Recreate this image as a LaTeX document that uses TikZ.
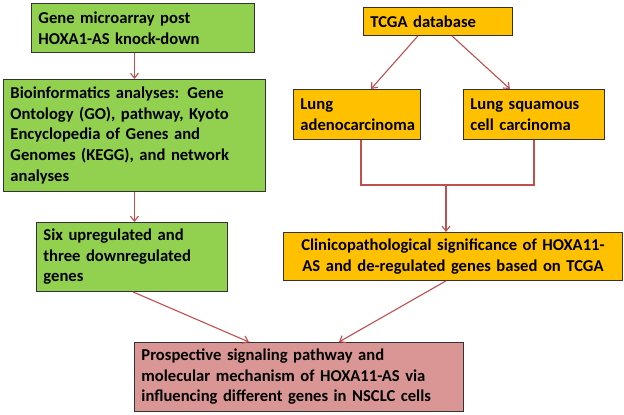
\documentclass[tikz,border=0pt]{standalone}
\usepackage{fontspec}
\setmainfont{Carlito}
\usetikzlibrary{positioning, arrows.meta}
\definecolor{boxgreen}{HTML}{92D050}
\definecolor{boxgold}{HTML}{FFC000}
\definecolor{boxpink}{HTML}{D99694}
\definecolor{linkred}{HTML}{C0504D}
\tikzset{
  box/.style={draw=black!80, line width=0.9pt, anchor=north west, inner xsep=7pt,
    align=left, font=\fontsize{16.6}{20.6}\selectfont\bfseries},
  green box/.style={box, fill=boxgreen},
  gold box/.style={box, fill=boxgold},
  pink box/.style={box, fill=boxpink},
  link/.style={draw=linkred, line width=1.1pt},
  arrow/.style={link, -{Straight Barb[length=5pt,width=8pt]}},
}

\begin{document}
\begin{tikzpicture}[x=1pt, y=-1pt]
    \useasboundingbox (0,0) rectangle (624,415);
    \node[green box, text width=209pt, minimum height=49pt] (gene) at (31,3)
      {Gene microarray post\\HOXA1-AS knock-down};
    \node[green box, text width=248pt, minimum height=112pt] (bioinfo) at (3,79)
      {Bioinformatics analyses: Gene\\Ontology (GO), pathway, Kyoto\\Encyclopedia of Genes and\\Genomes (KEGG), and network\\analyses};
    \node[green box, text width=177pt, minimum height=69pt] (sixgenes) at (36,222)
      {Six upregulated and\\three downregulated\\genes};
    \node[gold box, text width=135pt, minimum height=28pt] (tcga) at (363,7)
      {TCGA database};
    \node[gold box, text width=113pt, minimum height=50pt] (luad) at (293,89)
      {Lung\\adenocarcinoma};
    \node[gold box, text width=127pt, minimum height=50pt] (lusc) at (463,89)
      {Lung squamous\\cell carcinoma};
    \node[gold box, align=center, text width=325pt, minimum height=48pt] (clinic) at (283,232)
      {Clinicopathological significance of HOXA11-\\AS and de-regulated genes based on TCGA};
    \node[pink box, text width=315pt, minimum height=69pt] (mechanism) at (134,342)
      {Prospective signaling pathway and\\molecular mechanism of HOXA11-AS via\\influencing different genes in NSCLC cells};

    \draw[arrow] (bioinfo.north |- gene.south) -- (bioinfo.north);
    \draw[arrow] (bioinfo.south) -- (bioinfo.south |- sixgenes.north);
    \draw[arrow] ([xshift=-20pt]tcga.south) -- ([xshift=14pt]luad.north);
    \draw[arrow] ([xshift=14pt]tcga.south) -- ([xshift=-24pt]lusc.north);
    \coordinate (merge) at (446,185);
    \draw[link] ([xshift=4pt]luad.south) |- (merge) -| (lusc.south);
    \draw[arrow] (merge) -- (merge |- clinic.north);
    \draw[arrow] ([xshift=1pt]sixgenes.south) -- ([xshift=-50pt]mechanism.north);
    \draw[arrow] ([xshift=-7pt]clinic.south) -- ([xshift=40pt]mechanism.north);
\end{tikzpicture}
\end{document}
